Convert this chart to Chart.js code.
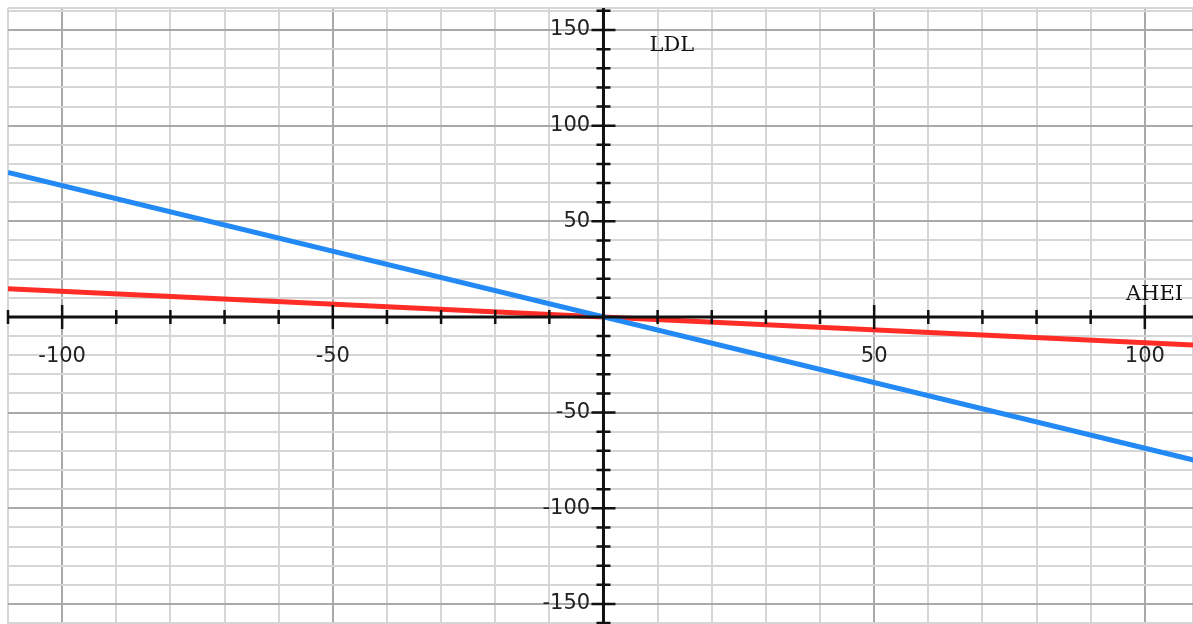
<!DOCTYPE html>
<html>
<head>
<meta charset="utf-8">
<script src="https://cdn.jsdelivr.net/npm/chart.js"></script>
<style>
    html, body { margin: 0; padding: 0; background: #ffffff; }
    #wrap { width: 1193px; height: 624px; position: relative; }
</style>
</head>
<body>
<div id="wrap"><canvas id="ldlChart"></canvas></div>
<script>
// line end points
const ahei = [-110, 110];
const ldlBlue = [75.5, -75.5];
const ldlRed = [14.8, -14.8];

const xTickLabels = [-100, -50, 50, 100];
const yTickLabels = [-150, -100, -50, 50, 100, 150];

const xRange = [-110, 108.9];
const yRange = [-160.5, 161.5];

function toPoints(xs, ys) {
    return xs.map(function (x, i) { return { x: x, y: ys[i] }; });
}

function stepTicks(lo, hi) {
    const out = [{ value: lo }];
    for (let v = Math.ceil(lo / 10) * 10; v <= hi; v += 10) {
        if (v !== lo) out.push({ value: v });
    }
    if (out[out.length - 1].value !== hi) out.push({ value: hi });
    return out;
}

function gridColor(ctx) {
    const v = ctx.tick ? ctx.tick.value : 0;
    return (v % 50 === 0) ? '#a9a9a9' : '#d6d6d6';
}

// labels of the centred axes take no room round the plot
function noPadding(scale) {
    scale.paddingLeft = 0;
    scale.paddingRight = 0;
    scale.paddingTop = 0;
    scale.paddingBottom = 0;
}

// axis lines, tick marks and axis names drawn on top of the lines
const axesPlugin = {
    id: 'centerAxes',
    afterDatasetsDraw: function (chart) {
        const c = chart.ctx;
        const area = chart.chartArea;
        const sx = chart.scales.x;
        const sy = chart.scales.y;
        const x0 = sx.getPixelForValue(0);
        const y0 = sy.getPixelForValue(0);
        c.save();
        c.strokeStyle = '#111111';
        c.lineWidth = 3;
        c.beginPath();
        c.moveTo(area.left, y0);
        c.lineTo(area.right, y0);
        c.moveTo(x0, area.top);
        c.lineTo(x0, area.bottom);
        c.stroke();
        c.lineWidth = 2.5;
        c.beginPath();
        for (let v = -110; v <= 110; v += 10) {
            if (v === 0) continue;
            const px = sx.getPixelForValue(v);
            if (px < area.left - 1 || px > area.right + 1) continue;
            const len = (v % 50 === 0) ? 12 : 7;
            c.moveTo(px, y0 - len);
            c.lineTo(px, y0 + len);
        }
        for (let v = -160; v <= 160; v += 10) {
            if (v === 0) continue;
            const py = sy.getPixelForValue(v);
            if (py < area.top - 1 || py > area.bottom + 1) continue;
            const len = (v % 50 === 0) ? 12 : 7;
            c.moveTo(x0 - len, py);
            c.lineTo(x0 + len, py);
        }
        c.stroke();
        c.fillStyle = '#111111';
        c.font = '21px "DejaVu Serif"';
        c.textBaseline = 'middle';
        c.textAlign = 'left';
        c.fillText('LDL', x0 + 46, area.top + 38);
        c.textAlign = 'right';
        c.fillText('AHEI', area.right - 10, y0 - 22);
        c.restore();
    }
};

const config = {
    type: 'scatter',
    data: {
        datasets: [
            {
                label: 'blue',
                data: toPoints(ahei, ldlBlue),
                showLine: true,
                borderColor: '#2389f4',
                borderWidth: 5,
                pointRadius: 0,
                fill: false
            },
            {
                label: 'red',
                data: toPoints(ahei, ldlRed),
                showLine: true,
                borderColor: '#ff2d26',
                borderWidth: 5,
                pointRadius: 0,
                fill: false
            }
        ]
    },
    plugins: [axesPlugin],
    options: {
        responsive: true,
        maintainAspectRatio: false,
        animation: false,
        layout: { padding: { left: 8, top: 8, right: 0, bottom: 0 } },
        plugins: {
            legend: { display: false },
            tooltip: { enabled: false }
        },
        scales: {
            x: {
                type: 'linear',
                min: xRange[0],
                max: xRange[1],
                position: { y: 0 },
                afterBuildTicks: function (scale) { scale.ticks = stepTicks(xRange[0], xRange[1]); },
                afterFit: noPadding,
                border: { display: false },
                grid: { color: gridColor, lineWidth: 2, drawTicks: false },
                ticks: {
                    autoSkip: false,
                    maxRotation: 0,
                    padding: 27,
                    color: '#222222',
                    font: { family: 'DejaVu Sans', size: 21 },
                    callback: function (v) { return xTickLabels.includes(v) ? String(v) : ''; }
                }
            },
            y: {
                type: 'linear',
                min: yRange[0],
                max: yRange[1],
                position: { x: 0 },
                afterBuildTicks: function (scale) { scale.ticks = stepTicks(yRange[0], yRange[1]); },
                afterFit: noPadding,
                border: { display: false },
                grid: { color: gridColor, lineWidth: 2, drawTicks: false },
                ticks: {
                    autoSkip: false,
                    color: '#222222',
                    font: { family: 'DejaVu Sans', size: 21 },
                    // the centred y axis puts labels flush on the axis, so keep a gap
                    callback: function (v) { return yTickLabels.includes(v) ? String(v) + '  ' : ''; }
                }
            }
        }
    }
};

const ldlChart = new Chart(document.getElementById('ldlChart'), config);
</script>
</body>
</html>
